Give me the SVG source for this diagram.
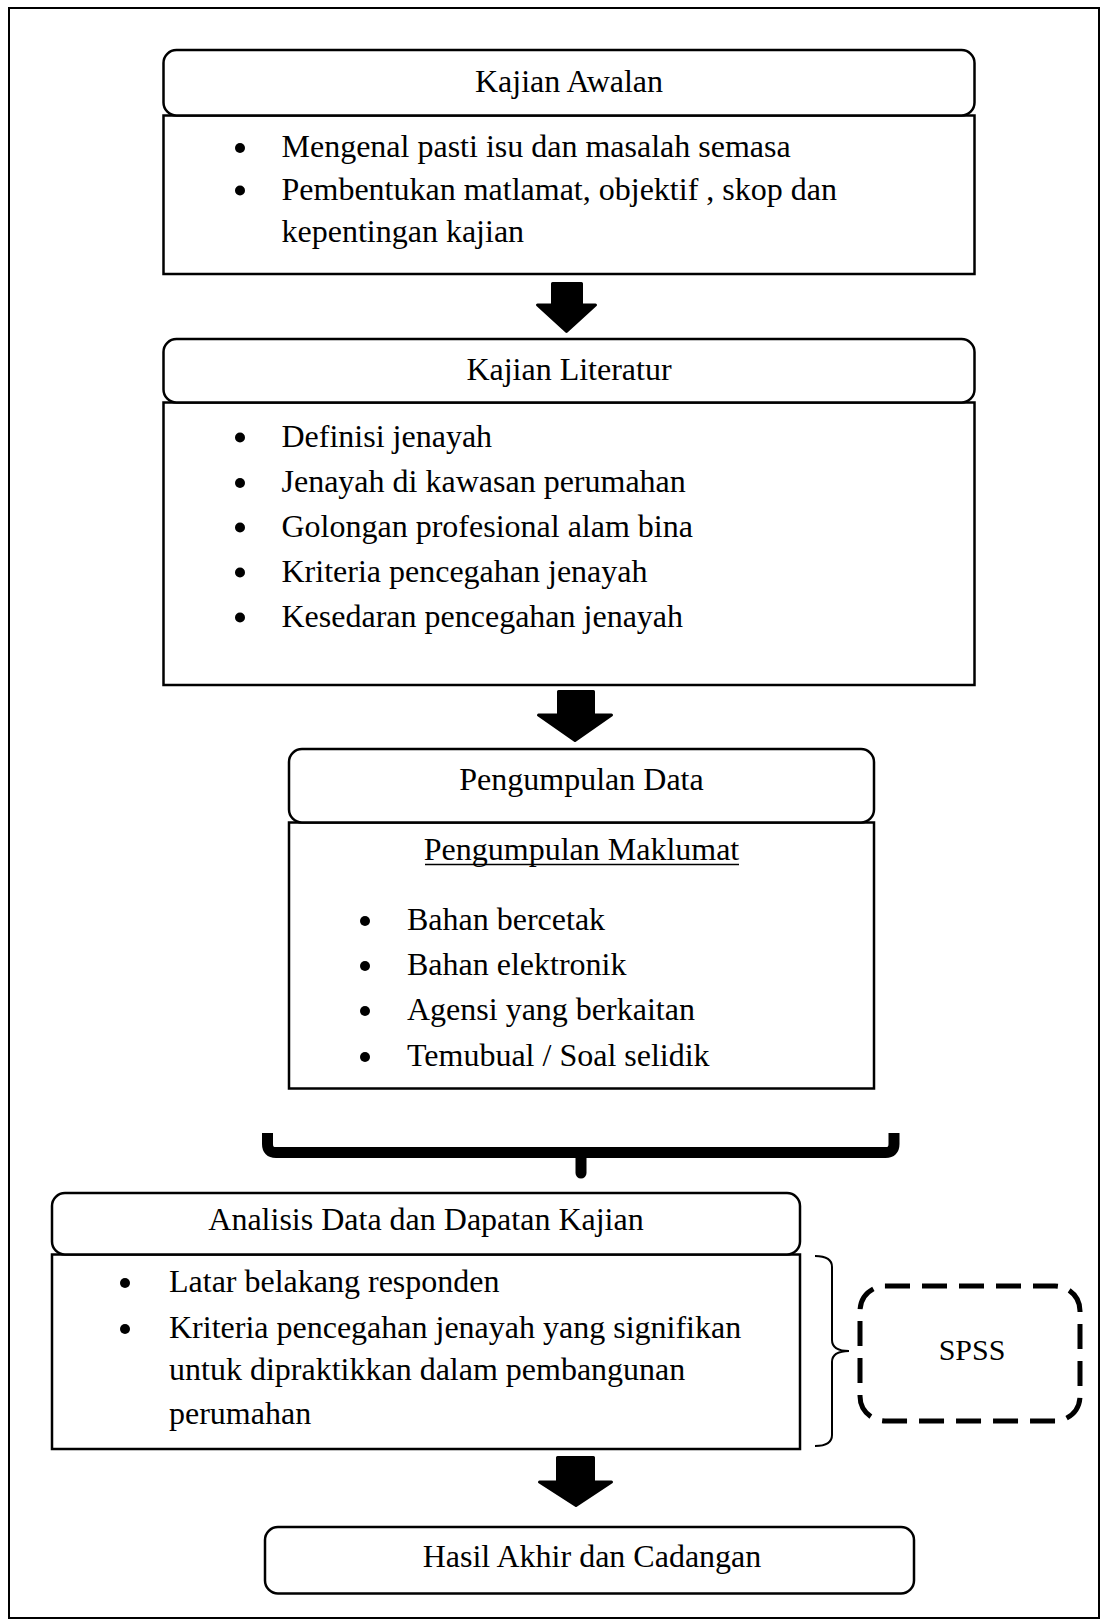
<svg xmlns="http://www.w3.org/2000/svg" width="1104" height="1622" viewBox="0 0 1104 1622">
<style>
.frame{fill:#fff;stroke:#000;stroke-width:2}
.box{fill:#fff;stroke:#000;stroke-width:2.5}
.t{font-family:"Liberation Serif","Times New Roman",serif;font-size:32px;fill:#000}
.c{text-anchor:middle}
.dot{fill:#000}
.arrow{fill:#000;stroke:#000;stroke-width:3;stroke-linejoin:round}
.brace{fill:none;stroke:#000;stroke-width:11}
.bracket{fill:none;stroke:#000;stroke-width:2}
.dash{fill:none;stroke:#000;stroke-width:5;stroke-dasharray:25 12}
</style>
<rect x="0" y="0" width="1104" height="1622" fill="#fff"/>
<rect class="frame" x="9" y="8" width="1090" height="1610"/>

<g id="kajian-awalan">
<rect class="box" x="163.5" y="115.5" width="811" height="158.5"/>
<rect class="box" x="163.5" y="50" width="811" height="65.5" rx="13"/>
<text class="t c" x="569" y="92">Kajian Awalan</text>
<circle class="dot" cx="240" cy="148" r="5"/>
<text class="t" x="281.5" y="157">Mengenal pasti isu dan masalah semasa</text>
<circle class="dot" cx="240" cy="190.5" r="5"/>
<text class="t" x="281.5" y="199.5">Pembentukan matlamat, objektif , skop dan</text>
<text class="t" x="281.5" y="242">kepentingan kajian</text>
</g>

<g id="kajian-literatur">
<rect class="box" x="163.5" y="402.5" width="811" height="282.5"/>
<rect class="box" x="163.5" y="339" width="811" height="63.5" rx="13"/>
<text class="t c" x="569" y="380">Kajian Literatur</text>
<circle class="dot" cx="240" cy="437.5" r="5"/>
<text class="t" x="281.5" y="446.5">Definisi jenayah</text>
<circle class="dot" cx="240" cy="483" r="5"/>
<text class="t" x="281.5" y="492">Jenayah di kawasan perumahan</text>
<circle class="dot" cx="240" cy="527.5" r="5"/>
<text class="t" x="281.5" y="536.5">Golongan profesional alam bina</text>
<circle class="dot" cx="240" cy="572.5" r="5"/>
<text class="t" x="281.5" y="581.5">Kriteria pencegahan jenayah</text>
<circle class="dot" cx="240" cy="617.5" r="5"/>
<text class="t" x="281.5" y="626.5">Kesedaran pencegahan jenayah</text>
</g>

<g id="pengumpulan-data">
<rect class="box" x="289" y="822.5" width="585" height="266"/>
<rect class="box" x="289" y="749" width="585" height="73.5" rx="13"/>
<text class="t c" x="581.5" y="790">Pengumpulan Data</text>
<text class="t c" x="581.5" y="860">Pengumpulan Maklumat</text>
<line x1="425" y1="864.5" x2="739" y2="864.5" stroke="#000" stroke-width="1.6"/>
<circle class="dot" cx="365" cy="921" r="5"/>
<text class="t" x="407" y="930">Bahan bercetak</text>
<circle class="dot" cx="365" cy="966" r="5"/>
<text class="t" x="407" y="975">Bahan elektronik</text>
<circle class="dot" cx="365" cy="1011" r="5"/>
<text class="t" x="407" y="1020">Agensi yang berkaitan</text>
<circle class="dot" cx="365" cy="1057" r="5"/>
<text class="t" x="407" y="1066">Temubual / Soal selidik</text>
</g>

<g id="analisis-data">
<rect class="box" x="52" y="1254.5" width="748" height="194.5"/>
<rect class="box" x="52" y="1193" width="748" height="61.5" rx="13"/>
<text class="t c" x="426" y="1230">Analisis Data dan Dapatan Kajian</text>
<circle class="dot" cx="125" cy="1283" r="5"/>
<text class="t" x="169" y="1292">Latar belakang responden</text>
<circle class="dot" cx="125" cy="1329" r="5"/>
<text class="t" x="169" y="1338">Kriteria pencegahan jenayah yang signifikan</text>
<text class="t" x="169" y="1380">untuk dipraktikkan dalam pembangunan</text>
<text class="t" x="169" y="1424">perumahan</text>
</g>

<g id="spss">
<rect class="dash" x="860" y="1286" width="220" height="135" rx="25"/>
<text class="t c" x="972" y="1360" style="font-size:30px">SPSS</text>
</g>

<g id="hasil-akhir">
<rect class="box" x="265" y="1527" width="649" height="66.5" rx="13"/>
<text class="t c" x="592" y="1567">Hasil Akhir dan Cadangan</text>
</g>

<g id="connectors">
<path class="arrow" d="M552.5,283.5 L581.5,283.5 L581.5,305 L595.5,305 L566.5,331.5 L537.5,305 L552.5,305 Z"/>
<path class="arrow" d="M558.5,691.5 L593.5,691.5 L593.5,715 L611.5,715 L575,740.5 L538.5,715 L558.5,715 Z"/>
<path class="arrow" d="M557.5,1457.5 L593.5,1457.5 L593.5,1482 L611.5,1482 L576,1505.5 L539.5,1482 L557.5,1482 Z"/>
<path class="brace" d="M267.5,1133 L267.5,1144 Q267.5,1152.5 276,1152.5 L885.5,1152.5 Q894,1152.5 894,1144 L894,1133"/>
<path class="brace" d="M581,1152.5 L581,1173" stroke-linecap="round"/>
<path class="bracket" d="M815,1256 Q832,1256 832,1267 L832,1340 Q832,1351 849,1351 Q832,1351 832,1362 L832,1435 Q832,1446 815,1446"/>
</g>
</svg>
